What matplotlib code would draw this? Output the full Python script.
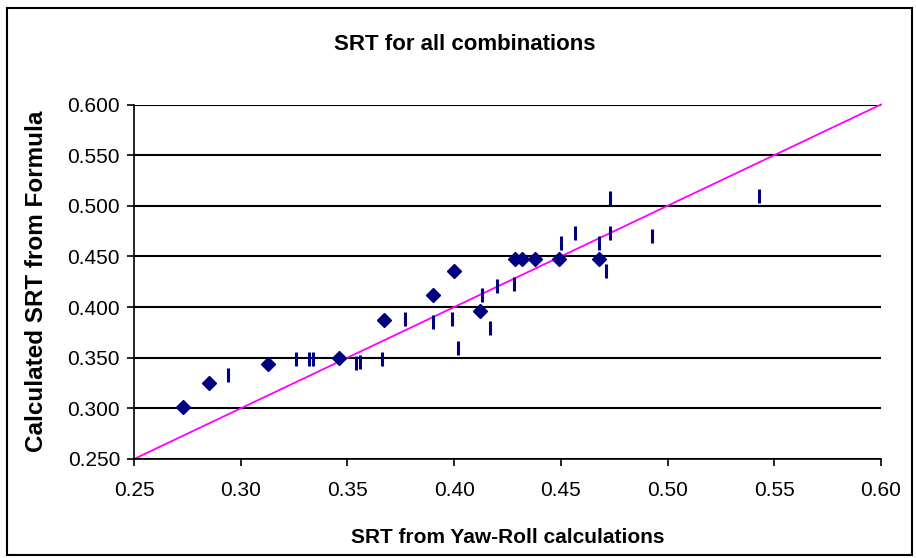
import matplotlib
matplotlib.use("Agg")
import matplotlib.pyplot as plt
from matplotlib.patches import Rectangle

# diamonds: SRT pairs (yaw-roll, formula)
diamond_x = [0.273, 0.285, 0.313, 0.346, 0.367, 0.390, 0.400, 0.412,
             0.4285, 0.432, 0.438, 0.449, 0.468]
diamond_y = [0.301, 0.325, 0.344, 0.350, 0.387, 0.412, 0.436, 0.396,
             0.447, 0.447, 0.447, 0.447, 0.447]

# vertical dash markers
dash_x = [0.294, 0.326, 0.332, 0.334, 0.354, 0.356, 0.366, 0.377, 0.390,
          0.399, 0.402, 0.413, 0.417, 0.420, 0.428, 0.450, 0.4565, 0.4677,
          0.471, 0.473, 0.473, 0.4926, 0.543]
dash_y = [0.333, 0.349, 0.349, 0.349, 0.3445, 0.346, 0.349, 0.388, 0.385,
          0.388, 0.360, 0.412, 0.379, 0.421, 0.423, 0.463, 0.473, 0.463,
          0.436, 0.473, 0.508, 0.470, 0.510]

# 1:1 reference line
diag = [0.25, 0.60]

x_ticks = [0.25, 0.30, 0.35, 0.40, 0.45, 0.50, 0.55, 0.60]
y_ticks = [0.250, 0.300, 0.350, 0.400, 0.450, 0.500, 0.550, 0.600]

plt.rcParams['font.family'] = ['Liberation Sans', 'DejaVu Sans']

fig = plt.figure(figsize=(9.16, 5.58), dpi=100)
ax = fig.add_axes([134/916, 1-459/558, (881-134)/916, (459-104.5)/558])

navy = '#000080'
ax.plot(diag, diag, color='#FF00FF', lw=1.3, clip_on=False, zorder=2)
ax.plot(dash_x, dash_y, ls='none', marker='|', ms=10, mew=2.2, color=navy, zorder=3)
ax.plot(diamond_x, diamond_y, ls='none', marker='D', ms=7, color=navy,
        mec=navy, zorder=4)

ax.set_xlim(0.25, 0.60)
ax.set_ylim(0.25, 0.60)
ax.set_xticks(x_ticks)
ax.set_xticklabels([f'{v:.2f}' for v in x_ticks])
ax.set_yticks(y_ticks)
ax.set_yticklabels([f'{v:.3f}' for v in y_ticks])
ax.tick_params(axis='both', direction='out', length=5, width=1.2,
               labelsize=15, color='black')
ax.tick_params(axis='x', pad=11)
ax.tick_params(axis='y', pad=5)

ax.yaxis.grid(True, color='black', lw=1.5)
ax.set_axisbelow(True)
for s in ['top', 'right']:
    ax.spines[s].set_visible(False)
for s in ['left', 'bottom']:
    ax.spines[s].set_linewidth(1.2)

ax.set_xlabel('SRT from Yaw-Roll calculations', fontsize=15, fontweight='bold',
              labelpad=20)
ax.set_ylabel('Calculated SRT from Formula', fontsize=17.5, fontweight='bold',
              labelpad=14)
fig.text(465/916, 1-44/558, 'SRT for all combinations', fontsize=16,
         fontweight='bold', ha='center', va='center')

fig.patches.append(Rectangle((7/916, 3/558), 905/916, 547/558,
                             transform=fig.transFigure, fill=False,
                             ec='black', lw=1.5))

fig.savefig('out.png', dpi=100)
